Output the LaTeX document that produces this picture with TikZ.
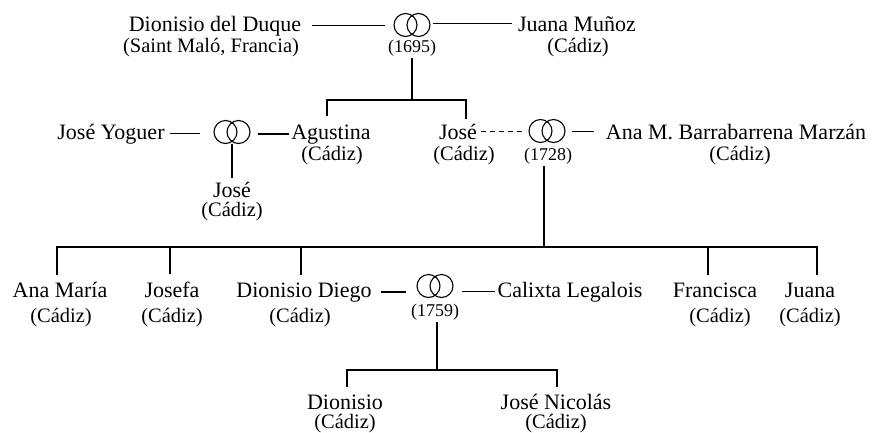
\documentclass[tikz,border=0pt]{standalone}
\usepackage{fontspec}
\setmainfont{Liberation Serif}
% two interlaced wedding rings, drawn round an empty box node
\newcommand\ringpair[2]{%
  \node[ringbox] (#1) at (#2) {};
  \draw[ringline] ([xshift=-6.5pt]#1.center) circle[x radius=11.5pt,y radius=11.5pt]
                  ([xshift=6.5pt]#1.center) circle[x radius=11.5pt,y radius=11.5pt];}
\begin{document}
\begin{tikzpicture}[x=1pt,y=-1pt,
  person/.style={font=\fontsize{22}{25}\selectfont,inner sep=0pt,anchor=base},
  place/.style={font=\fontsize{20.5}{23}\selectfont,inner sep=0pt,anchor=base},
  year/.style={font=\fontsize{18}{20}\selectfont,inner sep=0pt,anchor=base},
  ringbox/.style={inner sep=0pt,minimum width=37pt,minimum height=23pt},
  ringline/.style={line width=1.1pt},
  link/.style={line width=1.2pt},
]
\useasboundingbox[fill=white] (0,0) rectangle (872,432);

% ---- generation 1 ----
\node[person] (dd)  at (215,31) {Dionisio del Duque};
\node[place]  (ddp) at (211,52) {(Saint Maló, Francia)};
\ringpair{r1}{412,25}
\node[year]   (y1)  at (412,52) {(1695)};
\node[person] (jm)  at (577,31) {Juana Muñoz};
\node[place]  (jmp) at (578,52) {(Cádiz)};
\draw[link,shorten <=11pt,shorten >=8pt] (dd.east) -- (dd.east -| r1.west);
\draw[link,shorten <=2pt,shorten >=6pt] (jm.west -| r1.east) -- (jm.west);

% ---- generation 2 ----
\node[person] (jy)  at (111,139) {José Yoguer};
\ringpair{r2}{232,132}
\node[person] (ag)  at (331,139) {Agustina};
\node[place]  (agp) at (332,160) {(Cádiz)};
\node[person] (jc)  at (232,197) {José};
\node[place]  (jcp) at (232,216) {(Cádiz)};
\draw[link,shorten <=5pt,shorten >=13pt] (jy.east) -- (jy.east -| r2.west);
\draw[link,shorten <=7pt,shorten >=2pt] (ag.west -| r2.east) -- (ag.west);
\draw[link,shorten >=4pt] (r2.south) -- (jc.north);

\node[person] (js)  at (458,139) {José};
\node[place]  (jsp) at (464,160) {(Cádiz)};
\ringpair{r3}{547,131}
\node[year]   (y3)  at (548,160) {(1728)};
\node[person] (ab)  at (736,139) {Ana M. Barrabarrena Marzán};
\node[place]  (abp) at (740,160) {(Cádiz)};
\draw[link,dash pattern=on 5pt off 4pt,shorten <=4pt,shorten >=3pt]
  (js.east) -- (js.east -| r3.west);
\draw[link,shorten <=6pt,shorten >=12pt] (ab.west -| r3.east) -- (ab.west);

% children of the 1695 marriage
\coordinate (b1) at (412,100);
\draw[link] ([yshift=-2pt]y1.south) -- (b1);
\draw[link] (b1) -| ([xshift=-4pt,yshift=8pt]ag.north);
\draw[link] (b1) -| ([xshift=8pt,yshift=5pt]js.north);

% ---- generation 3 ----
\node[person] (an)  at (60,297)  {Ana María};
\node[place]  (anp) at (61,322)  {(Cádiz)};
\node[person] (jo)  at (172,297) {Josefa};
\node[place]  (jop) at (172,322) {(Cádiz)};
\node[person] (di)  at (304,297) {Dionisio Diego};
\node[place]  (dip) at (300,322) {(Cádiz)};
\ringpair{r4}{435,286}
\node[year]   (y4)  at (435,316) {(1759)};
\node[person] (cl)  at (570,297) {Calixta Legalois};
\node[person] (fr)  at (715,297) {Francisca};
\node[place]  (frp) at (720,322) {(Cádiz)};
\node[person] (ju)  at (810,297) {Juana};
\node[place]  (jup) at (810,322) {(Cádiz)};
\draw[link,shorten <=9pt,shorten >=10pt] (di.east) -- (di.east -| r4.west);
\draw[link,shorten <=8pt,shorten >=2pt] (cl.west -| r4.east) -- (cl.west);

% children of the 1728 marriage
\coordinate (b3) at (544,247);
\draw[link] ([yshift=-2pt]y3.south -| b3) -- (b3);
\draw[link] (b3) -| ([xshift=-3pt,yshift=7pt]an.north);
\draw[link] (b3) -| ([xshift=-2pt,yshift=7pt]jo.north);
\draw[link] (b3) -| ([xshift=-3pt,yshift=7pt]di.north);
\draw[link] (b3) -| ([xshift=-7pt,yshift=7pt]fr.north);
\draw[link] (b3) -| ([xshift=7pt,yshift=7pt]ju.north);

% ---- generation 4 ----
\node[person] (dn)  at (345,409) {Dionisio};
\node[place]  (dnp) at (345,428) {(Cádiz)};
\node[person] (jn)  at (556,409) {José Nicolás};
\node[place]  (jnp) at (556,428) {(Cádiz)};

% children of the 1759 marriage
\coordinate (b4) at (437,370);
\draw[link] ([yshift=-2pt]y4.south -| b4) -- (b4);
\draw[link] (b4) -| ([xshift=2pt,yshift=7pt]dn.north);
\draw[link] (b4) -| ([xshift=1pt,yshift=7pt]jn.north);
\end{tikzpicture}
\end{document}
